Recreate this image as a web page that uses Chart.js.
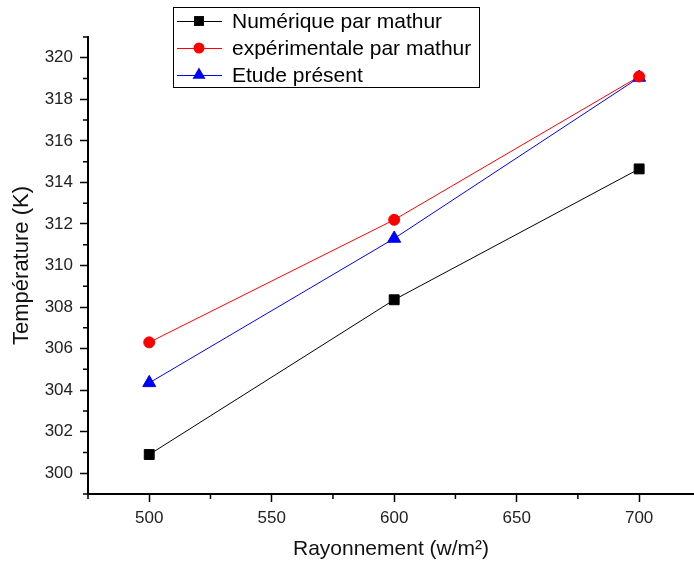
<!DOCTYPE html>
<html lang="fr">
<head>
    <meta charset="UTF-8">
    <title>Température</title>
    <script src="https://cdn.jsdelivr.net/npm/chart.js@4.4.0/dist/chart.umd.min.js"></script>
    <style>
        body { margin: 0; background: #fff; overflow: hidden; }
        canvas { display: block; }
    </style>
</head>
<body>
<canvas id="chart" width="694" height="565"></canvas>

<script>
    const rayonnement = [500, 600, 700];
    const numerique = [300.9, 308.35, 314.65];
    const experimentale = [306.3, 312.2, 319.1];
    const etude = [304.35, 311.3, 319.05];
    const xTicks = [500, 550, 600, 650, 700];
    const xMinor = [475, 525, 575, 625, 675, 725];
    const yTicks = [300, 302, 304, 306, 308, 310, 312, 314, 316, 318, 320];
    const yMinor = [299, 301, 303, 305, 307, 309, 311, 313, 315, 317, 319, 321];

    const font = "'Liberation Sans', Arial, sans-serif";

    function pts(ys) {
        return rayonnement.map((x, i) => ({x: x, y: ys[i]}));
    }

    // small ticks between the labelled ones
    const minorTicks = {
        id: 'minorTicks',
        afterDraw(chart) {
            const c = chart.ctx;
            const xs = chart.scales.x, ys = chart.scales.y;
            c.save();
            c.strokeStyle = '#000';
            c.lineWidth = 1.5;
            c.beginPath();
            xMinor.forEach(v => {
                const px = xs.getPixelForValue(v);
                if (px > chart.width) return;
                c.moveTo(px, xs.top);
                c.lineTo(px, xs.top + 5);
            });
            yMinor.forEach(v => {
                const py = ys.getPixelForValue(v);
                c.moveTo(ys.right, py);
                c.lineTo(ys.right - 5, py);
            });
            c.stroke();
            c.restore();
        }
    };

    // framed legend in the top area
    const boxLegend = {
        id: 'boxLegend',
        afterDraw(chart) {
            const c = chart.ctx;
            const left = 173, top = 7, w = 306, h = 80;
            c.save();
            c.fillStyle = '#fff';
            c.fillRect(left, top, w, h);
            c.strokeStyle = '#000';
            c.lineWidth = 1;
            c.strokeRect(left + 0.5, top + 0.5, w, h);
            const rows = [21, 48, 75];
            chart.data.datasets.forEach((ds, i) => {
                const y = rows[i];
                c.strokeStyle = ds.borderColor;
                c.lineWidth = 1;
                c.beginPath();
                c.moveTo(177, y + 0.5);
                c.lineTo(222, y + 0.5);
                c.stroke();
                c.fillStyle = ds.pointBackgroundColor;
                Chart.helpers.drawPoint(c, {
                    pointStyle: ds.pointStyle,
                    radius: ds.pointRadius,
                    borderWidth: 0
                }, 199, y);
                c.fillStyle = '#000';
                c.font = '21px ' + font;
                c.textBaseline = 'middle';
                c.textAlign = 'left';
                c.fillText(ds.label, 232, y + 1);
            });
            c.restore();
        }
    };

    new Chart(document.getElementById('chart'), {
        type: 'line',
        data: {
            datasets: [{
                label: 'Numérique par mathur',
                data: pts(numerique),
                borderColor: '#000',
                pointBackgroundColor: '#000',
                pointBorderColor: '#000',
                pointStyle: 'rect',
                pointRadius: 7,
                borderWidth: 1
            }, {
                label: 'expérimentale par mathur',
                data: pts(experimentale),
                borderColor: '#ff0000',
                pointBackgroundColor: '#ff0000',
                pointBorderColor: '#ff0000',
                pointStyle: 'circle',
                pointRadius: 5.5,
                borderWidth: 1
            }, {
                label: 'Etude présent',
                data: pts(etude),
                borderColor: '#0000ff',
                pointBackgroundColor: '#0000ff',
                pointBorderColor: '#0000ff',
                pointStyle: 'triangle',
                pointRadius: 7.5,
                borderWidth: 1
            }]
        },
        options: {
            responsive: false,
            animation: false,
            layout: {autoPadding: false, padding: {top: 37, right: 0, left: 0, bottom: 0}},
            plugins: {legend: {display: false}, tooltip: {enabled: false}},
            elements: {point: {borderWidth: 0}},
            scales: {
                x: {
                    type: 'linear',
                    min: 475,
                    max: 722.4,
                    afterBuildTicks: s => { s.ticks = xTicks.map(v => ({value: v})); },
                    afterFit: s => { s.height = 71; s.paddingLeft = 0; s.paddingRight = 0; },
                    border: {color: '#000', width: 2},
                    grid: {drawOnChartArea: false, tickLength: 8, tickWidth: 1.5, tickColor: '#000'},
                    ticks: {color: '#222', font: {family: font, size: 17}, padding: 6, maxRotation: 0},
                    title: {display: true, text: 'Rayonnement (w/m²)', color: '#111',
                        font: {family: font, size: 21}, padding: {top: 0, bottom: 3}}
                },
                y: {
                    min: 299,
                    max: 321,
                    afterBuildTicks: s => { s.ticks = yTicks.map(v => ({value: v})); },
                    afterFit: s => { s.width = 88; s.paddingTop = 0; s.paddingBottom = 0; },
                    border: {color: '#000', width: 2},
                    grid: {drawOnChartArea: false, tickLength: 8, tickWidth: 1.5, tickColor: '#000'},
                    ticks: {color: '#222', font: {family: font, size: 17}, padding: 7},
                    title: {display: true, text: 'Température (K)', color: '#111',
                        font: {family: font, size: 22}, padding: {top: 9, bottom: 0}}
                }
            }
        },
        plugins: [minorTicks, boxLegend]
    });
</script>
</body>
</html>
